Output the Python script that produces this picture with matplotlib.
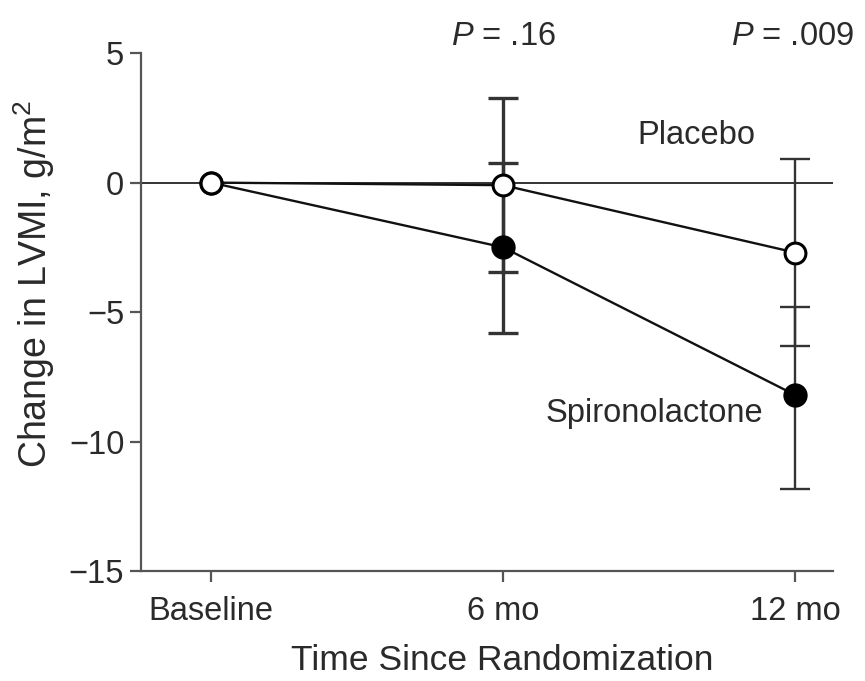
import matplotlib
matplotlib.use("Agg")
import matplotlib.pyplot as plt

plt.rcParams['font.family'] = ['Liberation Sans', 'DejaVu Sans']
plt.rcParams['mathtext.fontset'] = 'custom'
plt.rcParams['mathtext.rm'] = 'Liberation Sans'
plt.rcParams['mathtext.it'] = 'Liberation Sans:italic'

timepoints = ["Baseline", "6 mo", "12 mo"]
x = [0, 1, 2]
placebo_mean = [0.0, -0.1, -2.7]
placebo_err_low = [0.0, 3.35, 3.6]
placebo_err_high = [0.0, 3.37, 3.6]
spiro_mean = [0.0, -2.5, -8.2]
spiro_err_low = [0.0, 3.3, 3.65]
spiro_err_high = [0.0, 3.25, 3.4]
p_labels = ["", "= .16", "= .009"]

txt = '#2a2a2a'
fig = plt.figure(figsize=(8.65, 6.81), dpi=100)
ax = fig.add_axes([0.163, 0.1615, 0.800, 0.7605])

ax.axhline(0, color='#333333', lw=1.4, zorder=1)

ec = '#333333'
elw = {1: 2.4, 2: 1.7}
for i in [1, 2]:
    ax.errorbar([x[i]], [placebo_mean[i]], yerr=[[placebo_err_low[i]], [placebo_err_high[i]]],
                fmt='none', ecolor=ec, elinewidth=elw[i], capsize=11, capthick=elw[i], zorder=2)
    ax.errorbar([x[i]], [spiro_mean[i]], yerr=[[spiro_err_low[i]], [spiro_err_high[i]]],
                fmt='none', ecolor=ec, elinewidth=elw[i], capsize=11, capthick=elw[i], zorder=2)

ax.plot(x, spiro_mean, color='#111111', lw=1.7, marker='o', ms=16, mfc='black',
        mec='black', mew=1.5, zorder=3)
ax.plot(x, placebo_mean, color='#111111', lw=1.7, marker='o', ms=15, mfc='white',
        mec='black', mew=2.2, zorder=4)

ax.set_xlim(-0.24, 2.13)
ax.set_ylim(-15, 5)
ax.set_yticks([5, 0, -5, -10, -15])
ax.set_xticks(x)
ax.set_xticklabels(timepoints)

for s in ['top', 'right']:
    ax.spines[s].set_visible(False)
for s in ['left', 'bottom']:
    ax.spines[s].set_color('#555555')
    ax.spines[s].set_linewidth(1.6)
ax.spines['left'].set_bounds(-15, 5)

ax.tick_params(axis='y', direction='out', length=8, width=1.6, color='#555555',
               labelsize=23.5, pad=4, labelcolor=txt)
ax.tick_params(axis='x', direction='out', length=8, width=1.6, color='#555555',
               labelsize=23.5, pad=10, labelcolor=txt)

ax.set_xlabel("Time Since Randomization", fontsize=25.5, color=txt)
ax.set_ylabel("Change in LVMI, g/m$^2$", fontsize=27, color=txt)
ax.xaxis.set_label_coords(0.522, -0.140)
ax.yaxis.set_label_coords(-0.121, 0.554)

for i in [1, 2]:
    ha = 'center' if i == 1 else 'right'
    xx = x[i] if i == 1 else 2.2
    ax.text(xx, 5.3, r"$\it{P}$ " + p_labels[i], ha=ha, va='baseline', fontsize=23.5,
            color=txt, clip_on=False)

ax.text(1.459, 1.8, "Placebo", ha='left', va='center', fontsize=23.5, color=txt)
ax.text(1.144, -8.92, "Spironolactone", ha='left', va='center', fontsize=23.5, color=txt)

fig.savefig("out.png", dpi=100)
